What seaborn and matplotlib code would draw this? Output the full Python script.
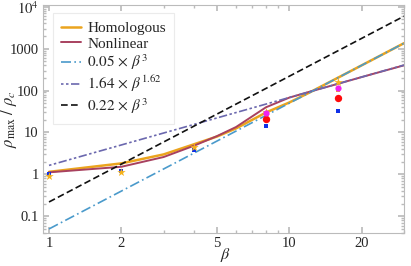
import numpy as np
import pandas as pd
import matplotlib
matplotlib.use("Agg")
import matplotlib.pyplot as plt
import seaborn as sns

# ---- data ----
beta_curve = [1, 2, 3, 4, 5, 6, 8, 10, 12, 16, 20, 25, 30]
homologous = [1.15, 1.83, 3.0, 5.2, 8.0, 12.5, 30, 52, 87, 205, 400, 780, 1350]
nonlinear = [1.12, 1.52, 2.6, 4.8, 8.2, 13.5, 40, 68, 92, 146, 210, 300, 400]

fit_coef = [0.05, 1.64, 0.22]
fit_exp = [3.0, 1.62, 3.0]
fit_labels = [r"$0.05\,\times\,\beta^{3}$", r"$1.64\,\times\,\beta^{1.62}$", r"$0.22\,\times\,\beta^{3}$"]
fit_beta = [1, 2, 5, 10, 20, 30]

star_beta = [1, 2, 4, 8, 16]
star_vals = [0.92, 1.12, 4.4, 31, 163]
blue_beta = [1, 2, 4, 8, 16]
blue_vals = [1.03, 1.22, 3.9, 14.4, 33]
mag_beta = [8, 16]
mag_vals = [29, 117]
red_beta = [8, 16]
red_vals = [21, 65]
orsq_beta = [16]
orsq_vals = [105]

xticks = [1, 2, 5, 10, 20]
yticks = [0.1, 1, 10, 100, 1000, 1e4]
ytick_labels = ["0.1", "1", "10", "100", "1000", r"$10^4$"]

# ---- style ----
sns.set_theme(style="ticks")
plt.rcParams["font.family"] = ["Liberation Serif", "DejaVu Serif"]
plt.rcParams["mathtext.fontset"] = "stix"

fig = plt.figure(figsize=(4.11, 2.66), dpi=100)
ax = fig.add_axes([43/411, 1-233/266, (404-43)/411, (233-5)/266])

c_hom = "#EBA41E"
c_non = "#A8415F"
c_fit = ["#4A9ACB", "#6B68AE", "#111111"]
dashes = [(6, 2, 1, 2), (1.5, 1.5, 1.5, 1.5, 5, 1.5), (4, 2)]

df = pd.DataFrame({"beta": beta_curve * 2,
                   "val": homologous + nonlinear,
                   "kind": ["Homologous"] * len(beta_curve) + ["Nonlinear"] * len(beta_curve)})
sns.lineplot(data=df[df.kind == "Homologous"], x="beta", y="val", color=c_hom, lw=1.8,
             ax=ax, label="Homologous")
sns.lineplot(data=df[df.kind == "Nonlinear"], x="beta", y="val", color=c_non, lw=1.4,
             ax=ax, label="Nonlinear")

fb = np.array(fit_beta, dtype=float)
for a, p, lab, col, d in zip(fit_coef, fit_exp, fit_labels, c_fit, dashes):
    sns.lineplot(x=fb, y=a * fb ** p, color=col, lw=1.2, ax=ax, label=lab, dashes=False)
    ax.lines[-1].set_dashes(d)

sns.scatterplot(x=blue_beta, y=blue_vals, marker="s", color="#1030E8", s=10, linewidth=0, ax=ax, zorder=5)
sns.scatterplot(x=star_beta, y=star_vals, marker="*", color="#F5B21A", s=40, linewidth=0, ax=ax, zorder=5)
sns.scatterplot(x=orsq_beta, y=orsq_vals, marker="s", color="#F0A030", s=12, linewidth=0, ax=ax, zorder=5)
sns.scatterplot(x=red_beta, y=red_vals, marker="o", color="#FF0A0A", s=28, linewidth=0, ax=ax, zorder=6)
sns.scatterplot(x=mag_beta, y=mag_vals, marker="o", color="#F020F0", s=20, linewidth=0, ax=ax, zorder=6)

ax.set_xscale("log")
ax.set_yscale("log")
ax.set_xlim(0.944, 30)
ax.set_ylim(0.04, 1.1e4)
ax.set_xticks(xticks)
ax.set_xticklabels([str(t) for t in xticks])
ax.set_yticks(yticks)
ax.set_yticklabels(ytick_labels)
ax.tick_params(which="both", direction="in", top=True, right=True, color="#bbbbbb",
               labelsize=10.5, pad=3)
ax.tick_params(which="major", length=4)
ax.tick_params(which="minor", length=2)
ax.xaxis.set_minor_formatter(matplotlib.ticker.NullFormatter())
ax.yaxis.set_minor_formatter(matplotlib.ticker.NullFormatter())
for s in ax.spines.values():
    s.set_color("#bbbbbb")
    s.set_linewidth(0.8)

ax.set_xlabel(r"$\beta$", fontsize=11.5)
ax.set_ylabel(r"$\rho_{\max}\ /\ \rho_c$", fontsize=12)
ax.xaxis.set_label_coords((225-43)/361, -(246-233)/228)
ax.yaxis.set_label_coords(-(43-19)/361, 0.5)

leg = ax.legend(loc="upper left", bbox_to_anchor=((53-43)/361, 1-(13-5)/228), fontsize=11,
                frameon=True, fancybox=False, edgecolor="#e6e6e6", handlelength=1.3,
                handletextpad=0.4, labelspacing=0.12, borderpad=0.55, borderaxespad=0)
leg.get_frame().set_linewidth(0.8)

fig.savefig("out.png", dpi=100)
